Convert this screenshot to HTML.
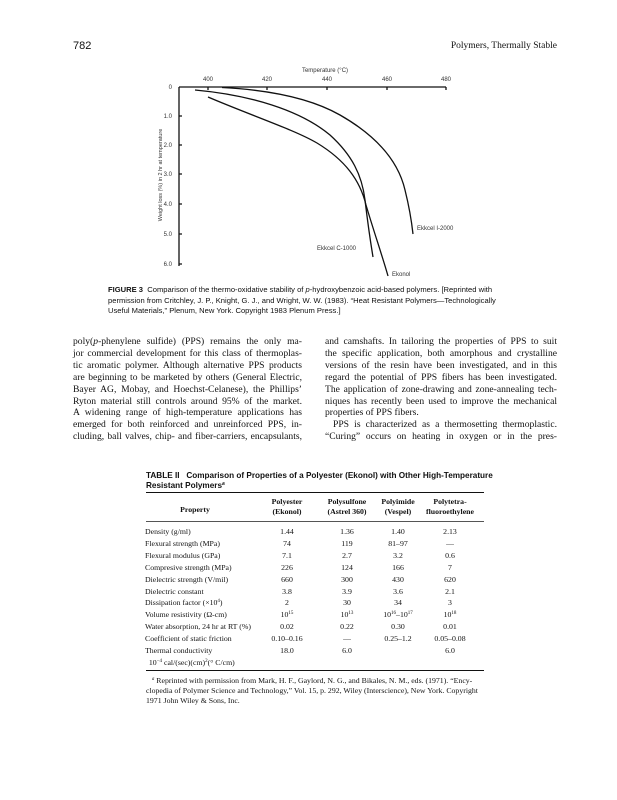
<!DOCTYPE html>
<html><head><meta charset="utf-8">
<style>
html,body{margin:0;padding:0;background:#fff;}
body{width:617px;height:800px;position:relative;overflow:hidden;font-family:"Liberation Serif",serif;color:#111;}
.a{position:absolute;white-space:nowrap;}
.ln{position:absolute;white-space:nowrap;text-align:justify;text-align-last:justify;font-size:9.6px;line-height:11px;}
.cap{font-family:"Liberation Sans",sans-serif;font-size:7.6px;}
.t{font-size:7.8px;position:absolute;white-space:nowrap;}
.c{transform:translateX(-50%);text-align:center;}
sup{font-size:5px;vertical-align:3px;line-height:0;}
</style></head><body>
<div class="a" style="left:73px;top:40px;font-family:'Liberation Sans',sans-serif;font-size:11px;">782</div>
<div class="a" style="right:60px;top:41px;font-size:9.5px;">Polymers, Thermally Stable</div>

<svg class="a" style="left:0;top:0" width="617" height="290" viewBox="0 0 617 290">
<g font-family="Liberation Sans,sans-serif" font-size="6" fill="#333">
<text x="325" y="72" text-anchor="middle">Temperature (°C)</text>
<text x="208" y="81" text-anchor="middle">400</text>
<text x="267" y="81" text-anchor="middle">420</text>
<text x="327" y="81" text-anchor="middle">440</text>
<text x="387" y="81" text-anchor="middle">460</text>
<text x="446" y="81" text-anchor="middle">480</text>
<text x="172" y="89" text-anchor="end">0</text>
<text x="172" y="118" text-anchor="end">1.0</text>
<text x="172" y="147" text-anchor="end">2.0</text>
<text x="172" y="176" text-anchor="end">3.0</text>
<text x="172" y="206" text-anchor="end">4.0</text>
<text x="172" y="236" text-anchor="end">5.0</text>
<text x="172" y="266" text-anchor="end">6.0</text>
<text transform="translate(162,175) rotate(-90)" text-anchor="middle" font-size="5.5">Weight loss (%) in 2 hr at temperature</text>
<text x="417" y="230">Ekkcel  I-2000</text>
<text x="317" y="250">Ekkcel  C-1000</text>
<text x="392" y="276">Ekonol</text>
</g>
<g stroke="#111" stroke-width="1.3" fill="none">
<path d="M179 87 H446 M179 87 V266"/>
<path d="M208 87v3 M267 87v3 M327 87v3 M387 87v3 M446 87v3 M179 116h3 M179 145h3 M179 174h3 M179 204h3 M179 234h3 M179 264h3"/>
<path d="M222 87.5 C270 90 310 98 340 115 C375 135 398 160 405 190 C410 210 412 225 413 234"/>
<path d="M195 90 C250 95 300 110 330 135 C352 155 362 175 365 200 C368 225 371 245 373 257"/>
<path d="M208 97 C250 115 295 130 317 143 C345 160 360 180 366 205 C374 232 382 255 388 276"/>
</g>
</svg>

<div class="a cap" style="left:108px;top:285px;line-height:10.5px;">
<b>FIGURE 3</b>&nbsp; Comparison of the thermo-oxidative stability of <i>p</i>-hydroxybenzoic acid-based polymers. [Reprinted with<br>
permission from Critchley, J. P., Knight, G. J., and Wright, W. W. (1983). “Heat Resistant Polymers—Technologically<br>
Useful Materials,” Plenum, New York. Copyright 1983 Plenum Press.]</div>

<div class="ln" style="left:73px;top:336px;width:229px;">poly(<i>p</i>-phenylene sulfide) (PPS) remains the only ma-</div>
<div class="ln" style="left:73px;top:347.9px;width:229px;">jor commercial development for this class of thermoplas-</div>
<div class="ln" style="left:73px;top:359.8px;width:229px;">tic aromatic polymer. Although alternative PPS products</div>
<div class="ln" style="left:73px;top:371.7px;width:229px;">are beginning to be marketed by others (General Electric,</div>
<div class="ln" style="left:73px;top:383.6px;width:229px;">Bayer AG, Mobay, and Hoechst-Celanese), the Phillips’</div>
<div class="ln" style="left:73px;top:395.5px;width:229px;">Ryton material still controls around 95% of the market.</div>
<div class="ln" style="left:73px;top:407.4px;width:229px;">A widening range of high-temperature applications has</div>
<div class="ln" style="left:73px;top:419.3px;width:229px;">emerged for both reinforced and unreinforced PPS, in-</div>
<div class="ln" style="left:73px;top:431.2px;width:229px;">cluding, ball valves, chip- and fiber-carriers, encapsulants,</div>

<div class="ln" style="left:325px;top:336px;width:232px;">and camshafts. In tailoring the properties of PPS to suit</div>
<div class="ln" style="left:325px;top:347.9px;width:232px;">the specific application, both amorphous and crystalline</div>
<div class="ln" style="left:325px;top:359.8px;width:232px;">versions of the resin have been investigated, and in this</div>
<div class="ln" style="left:325px;top:371.7px;width:232px;">regard the potential of PPS fibers has been investigated.</div>
<div class="ln" style="left:325px;top:383.6px;width:232px;">The application of zone-drawing and zone-annealing tech-</div>
<div class="ln" style="left:325px;top:395.5px;width:232px;">niques has recently been used to improve the mechanical</div>
<div class="a" style="left:325px;top:407.4px;font-size:9.6px;line-height:11px;">properties of PPS fibers.</div>
<div class="ln" style="left:333px;top:419.3px;width:224px;">PPS is characterized as a thermosetting thermoplastic.</div>
<div class="ln" style="left:325px;top:431.2px;width:232px;">“Curing” occurs on heating in oxygen or in the pres-</div>

<div class="a cap" style="left:146px;top:471px;font-size:8.2px;line-height:9.5px;font-weight:bold;">TABLE II&nbsp;&nbsp; Comparison of Properties of a Polyester (Ekonol) with Other High-Temperature<br>Resistant Polymers<sup><i>a</i></sup></div>
<div class="a" style="left:146px;top:492px;width:338px;border-top:1px solid #111;"></div>
<div class="a" style="left:146px;top:521px;width:338px;border-top:0.7px solid #555;"></div>
<div class="a" style="left:146px;top:670px;width:338px;border-top:1.2px solid #111;"></div>

<div class="t c" style="left:195px;top:505px;font-weight:bold;">Property</div>
<div class="t c" style="left:287px;top:497px;font-weight:bold;line-height:10px;">Polyester<br>(Ekonol)</div>
<div class="t c" style="left:347px;top:497px;font-weight:bold;line-height:10px;">Polysulfone<br>(Astrel 360)</div>
<div class="t c" style="left:398px;top:497px;font-weight:bold;line-height:10px;">Polyimide<br>(Vespel)</div>
<div class="t c" style="left:450px;top:497px;font-weight:bold;line-height:10px;">Polytetra-<br>fluoroethylene</div>

<div class="t" style="left:145px;top:526px;line-height:11.9px;">Density (g/ml)<br>Flexural strength (MPa)<br>Flexural modulus (GPa)<br>Compresive strength (MPa)<br>Dielectric strength (V/mil)<br>Dielectric constant<br>Dissipation factor (×10<sup>4</sup>)<br>Volume resistivity (Ω-cm)<br>Water absorption, 24 hr at RT (%)<br>Coefficient of static friction<br>Thermal conductivity<br>&nbsp;&nbsp;10<sup>−4</sup> cal/(sec)(cm)<sup>2</sup>(° C/cm)</div>
<div class="t c" style="left:287px;top:526px;line-height:11.9px;">1.44<br>74<br>7.1<br>226<br>660<br>3.8<br>2<br>10<sup>15</sup><br>0.02<br>0.10–0.16<br>18.0</div>
<div class="t c" style="left:347px;top:526px;line-height:11.9px;">1.36<br>119<br>2.7<br>124<br>300<br>3.9<br>30<br>10<sup>13</sup><br>0.22<br>—<br>6.0</div>
<div class="t c" style="left:398px;top:526px;line-height:11.9px;">1.40<br>81–97<br>3.2<br>166<br>430<br>3.6<br>34<br>10<sup>16</sup>–10<sup>17</sup><br>0.30<br>0.25–1.2<br>&nbsp;</div>
<div class="t c" style="left:450px;top:526px;line-height:11.9px;">2.13<br>—<br>0.6<br>7<br>620<br>2.1<br>3<br>10<sup>18</sup><br>0.01<br>0.05–0.08<br>6.0</div>

<div class="t" style="left:146px;top:676px;line-height:10px;font-size:7.8px;">
&nbsp;&nbsp;&nbsp;<sup><i>a</i></sup> Reprinted with permission from Mark, H. F., Gaylord, N. G., and Bikales, N. M., eds. (1971). “Ency-<br>
clopedia of Polymer Science and Technology,” Vol. 15, p. 292, Wiley (Interscience), New York. Copyright<br>
1971 John Wiley &amp; Sons, Inc.</div>
</body></html>
